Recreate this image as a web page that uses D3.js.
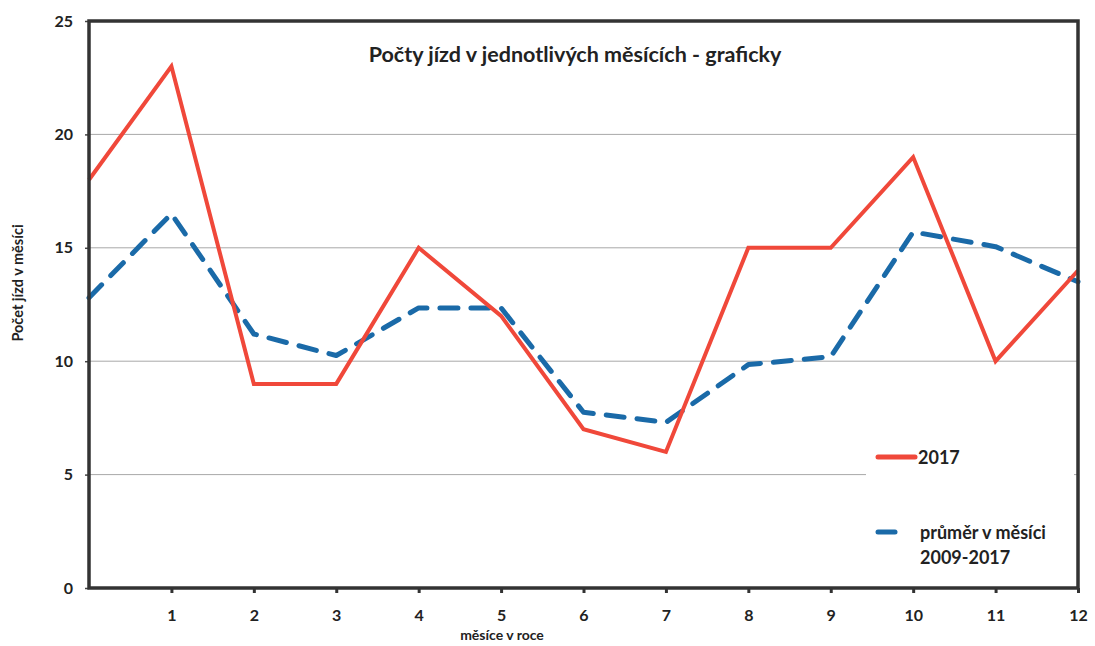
<!DOCTYPE html>
<html>
<head>
<meta charset="utf-8">
<script src="https://cdn.jsdelivr.net/npm/d3@7"></script>
<style>
  html, body { margin: 0; padding: 0; background: #fff; }
  svg { display: block; }
  text { font-family: Lato, "Open Sans", sans-serif; font-weight: bold; fill: #222; }
</style>
</head>
<body>
<div id="chart"></div>
<script>
// Data
var months = [0, 1, 2, 3, 4, 5, 6, 7, 8, 9, 10, 11, 12];
var rides2017 = [18, 23, 9, 9, 15, 12, 7, 6, 15, 15, 19, 10, 14];
var avg2009_2017 = [12.8, 16.5, 11.2, 10.25, 12.35, 12.35, 7.75, 7.3, 9.85, 10.2, 15.7, 15.05, 13.5];
var xTicks = [1, 2, 3, 4, 5, 6, 7, 8, 9, 10, 11, 12];
var yTicks = [0, 5, 10, 15, 20, 25];
var seriesNames = ['2017', 'průměr v měsíci', '2009-2017'];

(function () {
  var W = 1095, H = 646;
  var m = { left: 89, right: 1078, top: 21, bottom: 588 };

  var svg = d3.select('#chart').append('svg').attr('width', W).attr('height', H);

  var x = d3.scaleLinear().domain([0, 12]).range([m.left, m.right]);
  var y = d3.scaleLinear().domain([0, 25]).range([m.bottom, m.top]);

  // horizontal gridlines
  svg.append('g').selectAll('line')
    .data(yTicks.filter(function (v) { return v > 0 && v < 25; }))
    .enter().append('line')
    .attr('x1', m.left).attr('x2', m.right)
    .attr('y1', function (v) { return y(v); }).attr('y2', function (v) { return y(v); })
    .attr('stroke', '#a8a8a8').attr('stroke-width', 1);

  // y axis ticks + labels
  var yAxis = d3.axisLeft(y).tickValues(yTicks).tickSize(4).tickPadding(12);
  var gy = svg.append('g').attr('transform', 'translate(' + m.left + ',0)').call(yAxis);
  gy.select('.domain').remove();
  gy.selectAll('line').attr('stroke', '#444').attr('stroke-width', 1.5);
  gy.selectAll('text').style('font-size', '16px').attr('fill', '#222');

  // x axis ticks + labels
  var xAxis = d3.axisBottom(x).tickValues(xTicks).tickSize(5).tickPadding(17).tickFormat(d3.format('d'));
  var gx = svg.append('g').attr('transform', 'translate(0,' + m.bottom + ')').call(xAxis);
  gx.select('.domain').remove();
  gx.selectAll('line').attr('stroke', '#333').attr('stroke-width', 3);
  gx.selectAll('text').style('font-size', '16px').attr('fill', '#222');

  // lines
  var line = d3.line()
    .x(function (d) { return x(d[0]); })
    .y(function (d) { return y(d[1]); });

  svg.append('path')
    .datum(months.map(function (mo, i) { return [mo, avg2009_2017[i]]; }))
    .attr('d', line).attr('fill', 'none')
    .attr('stroke', '#1a6aa8').attr('stroke-width', 5)
    .attr('stroke-dasharray', '18,13').attr('stroke-linecap', 'round')
    .attr('stroke-linejoin', 'round');

  svg.append('path')
    .datum(months.map(function (mo, i) { return [mo, rides2017[i]]; }))
    .attr('d', line).attr('fill', 'none')
    .attr('stroke', '#f0483a').attr('stroke-width', 4)
    .attr('stroke-linejoin', 'miter');

  // plot frame
  svg.append('rect')
    .attr('x', m.left).attr('y', m.top)
    .attr('width', m.right - m.left).attr('height', m.bottom - m.top)
    .attr('fill', 'none').attr('stroke', '#333').attr('stroke-width', 3.5);

  // legend (white box over the gridline)
  var lg = svg.append('g');
  lg.append('rect').attr('x', 866).attr('y', 440).attr('width', 208).attr('height', 140).attr('fill', '#fff');
  lg.append('line').attr('x1', 878).attr('x2', 915).attr('y1', 457).attr('y2', 457)
    .attr('stroke', '#f0483a').attr('stroke-width', 5).attr('stroke-linecap', 'round');
  lg.append('text').attr('x', 918).attr('y', 464).style('font-size', '18px').text(seriesNames[0]);
  lg.append('line').attr('x1', 878).attr('x2', 895).attr('y1', 532).attr('y2', 532)
    .attr('stroke', '#1a6aa8').attr('stroke-width', 5).attr('stroke-linecap', 'round');
  lg.append('text').attr('x', 920).attr('y', 539).style('font-size', '18px').text(seriesNames[1]);
  lg.append('text').attr('x', 920).attr('y', 564).style('font-size', '18px').text(seriesNames[2]);

  // title and axis titles
  svg.append('text').attr('x', 575).attr('y', 62).attr('text-anchor', 'middle')
    .style('font-size', '21.5px').text('Počty jízd v jednotlivých měsících - graficky');
  svg.append('text').attr('x', 502).attr('y', 640).attr('text-anchor', 'middle')
    .style('font-size', '14px').text('měsíce v roce');
  svg.append('text').attr('transform', 'translate(23,283) rotate(-90)').attr('text-anchor', 'middle')
    .style('font-size', '14.5px').text('Počet jízd v měsíci');
})();
</script>
</body>
</html>
